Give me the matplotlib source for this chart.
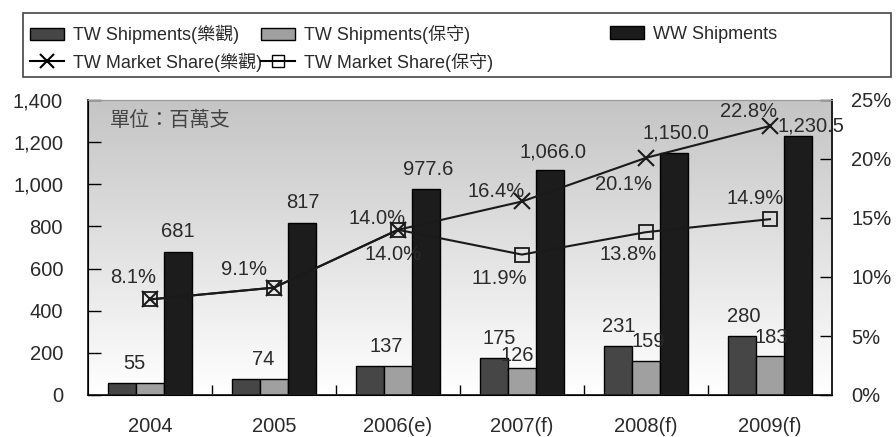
import matplotlib.pyplot as plt
import matplotlib.patches as mpatches
import matplotlib.lines as mlines
import numpy as np

plt.rcParams['font.family'] = ['Liberation Sans', 'Noto Sans CJK TC']

years = ['2004', '2005', '2006(e)', '2007(f)', '2008(f)', '2009(f)']
tw_ship_opt = [55, 74, 137, 175, 231, 280]
tw_ship_con = [55, 74, 137, 126, 159, 183]
ww_ship = [681, 817, 977.6, 1066.0, 1150.0, 1230.5]
ww_labels = ['681', '817', '977.6', '1,066.0', '1,150.0', '1,230.5']
share_opt = [8.1, 9.1, 14.0, 16.4, 20.1, 22.8]
share_con = [8.1, 9.1, 14.0, 11.9, 13.8, 14.9]

# label offsets in pixels (dx, dy), None = no label
opt_bar_off = [(12, 20), (17, 20), (16, 20), (5, 20), (1, 20), (2, 20)]
con_bar_off = [None, None, None, (-5, 13), (2, 20), (1, 19)]
ww_off = [(0, 20), (1, 20), (2, 20), (3, 18), (2, 20), (13, 10)]
opt_pct_off = [(-17, 22), (-30, 18), (-21, 11), (-26, 10), (-23, -27), (-21, 14)]
con_pct_off = [None, None, (-5, -25), (-23, -24), (-18, -22), (-15, 21)]

c_dark = '#464646'
c_light = '#a0a0a0'
c_black = '#1c1c1c'
txt = '#2a2a2a'
fs = 14.5

fig = plt.figure(figsize=(8.96, 4.37), dpi=100)
ax = fig.add_axes([88/896, 42/437, 744/896, 295/437])

# gradient background, gray at top to white at bottom
t = np.linspace(0, 1, 256).reshape(-1, 1)
g = 0.77 + (1 - 0.77) * t
bg = np.dstack([g, g, g])
ax.imshow(bg, extent=[0, 1, 0, 1], transform=ax.transAxes, aspect='auto', origin='upper', zorder=0)

x = np.arange(len(years))
w = 0.226
ax.bar(x - w, tw_ship_opt, w, color=c_dark, edgecolor='black', linewidth=1, zorder=2)
ax.bar(x, tw_ship_con, w, color=c_light, edgecolor='black', linewidth=1, zorder=2)
ax.bar(x + w, ww_ship, w, color=c_black, edgecolor='black', linewidth=1, zorder=2)

for i in range(len(years)):
    ax.annotate(str(tw_ship_opt[i]), (x[i] - w, tw_ship_opt[i]), xytext=opt_bar_off[i],
                textcoords='offset pixels', ha='center', va='center', fontsize=fs, color=txt, zorder=5)
    if con_bar_off[i] is not None:
        ax.annotate(str(tw_ship_con[i]), (x[i], tw_ship_con[i]), xytext=con_bar_off[i],
                    textcoords='offset pixels', ha='center', va='center', fontsize=fs, color=txt, zorder=5)
    ax.annotate(ww_labels[i], (x[i] + w, ww_ship[i]), xytext=ww_off[i],
                textcoords='offset pixels', ha='center', va='center', fontsize=fs, color=txt, zorder=5)

ax.set_xlim(-0.5, 5.5)
ax.set_ylim(0, 1400)
ax.set_yticks(range(0, 1401, 200))
ax.set_yticklabels([f'{v:,}' for v in range(0, 1401, 200)])
ax.set_xticks(x[:-1] + 0.5)
ax.set_xticklabels([])
ax.set_xticks(x, minor=True)
ax.set_xticklabels(years, minor=True)
ax.tick_params(axis='x', which='major', direction='in', length=7, width=1)
ax.tick_params(axis='x', which='minor', length=0, pad=16, labelsize=fs, labelcolor=txt)
ax.tick_params(axis='y', direction='in', length=9, width=1, pad=18, labelsize=fs, labelcolor=txt)
for s in ['left', 'bottom', 'right']:
    ax.spines[s].set_color('#222222')
    ax.spines[s].set_linewidth(1.3)
ax.spines['top'].set_color('#999999')

ax.text(0.03, 0.93, '單位：百萬支', transform=ax.transAxes, fontsize=fs,
        family=['Noto Sans CJK TC'], color='#444444', va='center', ha='left', zorder=5)

ax2 = ax.twinx()
ax2.set_ylim(0, 25)
ax2.set_yticks(range(0, 26, 5))
ax2.set_yticklabels([f'{v}%' for v in range(0, 26, 5)])
ax2.tick_params(axis='y', direction='in', length=9, width=1, pad=14, labelsize=fs, labelcolor=txt)
ax2.spines['right'].set_color('#222222')
ax2.spines['right'].set_linewidth(1.3)
ax2.spines['top'].set_color('#999999')

ax2.plot(x, share_opt, color='#1a1a1a', lw=1.5, marker='x', ms=12, mew=1.5, zorder=4)
ax2.plot(x, share_con, color='#1a1a1a', lw=1.5, marker='s', ms=10, mew=1.3, mfc='none', zorder=4)

for i in range(len(years)):
    ax2.annotate(f'{share_opt[i]:.1f}%', (x[i], share_opt[i]), xytext=opt_pct_off[i],
                 textcoords='offset pixels', ha='center', va='center', fontsize=fs, color=txt)
    if con_pct_off[i] is not None:
        ax2.annotate(f'{share_con[i]:.1f}%', (x[i], share_con[i]), xytext=con_pct_off[i],
                     textcoords='offset pixels', ha='center', va='center', fontsize=fs, color=txt)

# legend frame
fig.patches.append(mpatches.Rectangle((23/896, 1 - 77/437), 868/896, 64/437, transform=fig.transFigure,
                                      fill=False, edgecolor='#444444', linewidth=1.2))
h1 = mpatches.Patch(facecolor=c_dark, edgecolor='black', label='TW Shipments(樂觀)')
h2 = mpatches.Patch(facecolor=c_light, edgecolor='black', label='TW Shipments(保守)')
h3 = mpatches.Patch(facecolor=c_black, edgecolor='black', label='WW Shipments')
h4 = mlines.Line2D([], [], color='black', lw=1.5, marker='x', ms=10, mew=1.5, label='TW Market Share(樂觀)')
h5 = mlines.Line2D([], [], color='black', lw=1.5, marker='s', ms=8, mfc='none', label='TW Market Share(保守)')

legA = fig.legend(handles=[h1, h4, h2, h5], ncol=2, loc='upper left', bbox_to_anchor=(30/896, 1 - 25/437),
                  frameon=False, fontsize=13, borderpad=0, borderaxespad=0, handlelength=1.9,
                  handletextpad=0.5, columnspacing=-0.1, labelspacing=0.45)
for tx in legA.get_texts():
    tx.set_color(txt)
legB = fig.legend(handles=[h3], loc='upper left', bbox_to_anchor=(610/896, 1 - 26/437),
                  frameon=False, fontsize=13, borderpad=0, borderaxespad=0, handlelength=1.9,
                  handletextpad=0.5)
for tx in legB.get_texts():
    tx.set_color(txt)

fig.savefig('out.png', dpi=100)
